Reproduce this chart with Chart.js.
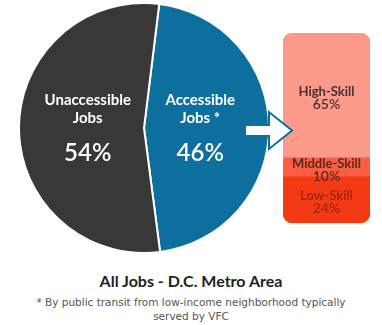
<!DOCTYPE html>
<html>
<head>
<meta charset="utf-8">
<script src="https://cdn.jsdelivr.net/npm/chart.js@4.4.0/dist/chart.umd.min.js"></script>
<style>
  body { margin: 0; background: #fff; }
  #wrap { position: relative; width: 382px; height: 325px; overflow: hidden; }
  canvas { position: absolute; }
  #pieChart { left: 0; top: 0; }
  #skillChart { left: 240px; top: 0; }
  .title { position: absolute; left: 0; width: 382px; top: 271px; text-align: center;
           font: bold 16px Lato, sans-serif; color: #222; }
  .note { position: absolute; left: 0; width: 382px; top: 295px; text-align: center;
          font: 10.5px "DejaVu Sans", Verdana, sans-serif; color: #555; line-height: 14px; }
</style>
</head>
<body>
<div id="wrap">
  <canvas id="pieChart" width="300" height="258"></canvas>
  <canvas id="skillChart" width="142" height="258"></canvas>
  <div class="title">All Jobs - D.C. Metro Area</div>
  <div class="note">* By public transit from low-income neighborhood typically<br>served by VFC</div>
</div>
<script>
// pie data
const jobLabels = [['Accessible', 'Jobs *'], ['Unaccessible', 'Jobs']];
const jobValues = [46, 54];
const jobColors = ['#0d6f9e', '#383838'];

// stacked skill breakdown of accessible jobs (bottom to top)
const skillLabels = ['Low-Skill', 'Middle-Skill', 'High-Skill'];
const skillValues = [24, 10, 65];
const skillColors = ['#f33a14', '#fa5d42', '#fb9a8b'];
const skillText = ['#a3281a', '#5a2a22', '#4a3030'];

// white text inside the pie slices
const pieLabelPlugin = {
    id: 'pieLabels',
    afterDatasetsDraw(chart) {
        const ctx = chart.ctx;
        const meta = chart.getDatasetMeta(0);
        ctx.save();
        ctx.fillStyle = '#fff';
        ctx.textAlign = 'center';
        ctx.textBaseline = 'middle';
        meta.data.forEach((arc, i) => {
            const mid = (arc.startAngle + arc.endAngle) / 2;
            const r = arc.outerRadius * 0.45;
            const x = arc.x + Math.cos(mid) * r;
            const y = arc.y;
            ctx.font = 'bold 15px Lato, sans-serif';
            ctx.fillText(jobLabels[i][0], x, y - 28);
            ctx.fillText(jobLabels[i][1], x, y - 10);
            ctx.font = '600 24px Lato, sans-serif';
            ctx.fillText(jobValues[i] + '%', x, y + 25);
        });
        ctx.restore();
    }
};

// labels in the bar and the arrow pointing to it
const skillLabelPlugin = {
    id: 'skillLabels',
    afterDatasetsDraw(chart) {
        const ctx = chart.ctx;
        ctx.save();
        ctx.textAlign = 'center';
        ctx.textBaseline = 'middle';
        chart.data.datasets.forEach((ds, i) => {
            const bar = chart.getDatasetMeta(i).data[0];
            const cy = (bar.y + bar.base) / 2 + 2;
            ctx.fillStyle = skillText[i];
            ctx.font = 'bold 13px Lato, sans-serif';
            ctx.fillText(skillLabels[i], bar.x, cy - 6);
            ctx.font = '600 14px Lato, sans-serif';
            ctx.fillText(skillValues[i] + '%', bar.x, cy + 7);
        });

        // arrow
        ctx.beginPath();
        ctx.moveTo(5, 125);
        ctx.lineTo(29, 125);
        ctx.lineTo(29, 112);
        ctx.lineTo(52, 130.5);
        ctx.lineTo(29, 149);
        ctx.lineTo(29, 136);
        ctx.lineTo(5, 136);
        ctx.closePath();
        ctx.fillStyle = '#fff';
        ctx.fill();
        ctx.strokeStyle = '#0d6f9e';
        ctx.lineWidth = 2;
        ctx.stroke();
        ctx.restore();
    }
};

new Chart(document.getElementById('pieChart'), {
    type: 'pie',
    data: {
        labels: jobLabels.map(l => l.join(' ')),
        datasets: [{
            data: jobValues,
            backgroundColor: jobColors,
            borderColor: '#fff',
            borderWidth: 2
        }]
    },
    options: {
        responsive: false,
        animation: false,
        rotation: 7,
        layout: { padding: { left: 18, right: 30, top: 2, bottom: 4 } },
        events: [],
        plugins: { legend: { display: false }, tooltip: { enabled: false } }
    },
    plugins: [pieLabelPlugin]
});

new Chart(document.getElementById('skillChart'), {
    type: 'bar',
    data: {
        labels: ['Accessible Jobs'],
        datasets: skillLabels.map((label, i) => ({
            label: label,
            data: [skillValues[i]],
            backgroundColor: skillColors[i],
            borderSkipped: false,
            borderRadius: i === 0 ? { bottomLeft: 10, bottomRight: 10 }
                : i === skillLabels.length - 1 ? { topLeft: 10, topRight: 10 } : 0,
            barPercentage: 1,
            categoryPercentage: 1
        }))
    },
    options: {
        responsive: false,
        animation: false,
        events: [],
        layout: { padding: { left: 43, right: 12, top: 33, bottom: 35 } },
        scales: {
            x: { stacked: true, display: false },
            y: { stacked: true, display: false, min: 0, max: 99 }
        },
        plugins: { legend: { display: false }, tooltip: { enabled: false } }
    },
    plugins: [skillLabelPlugin]
});
</script>
</body>
</html>
